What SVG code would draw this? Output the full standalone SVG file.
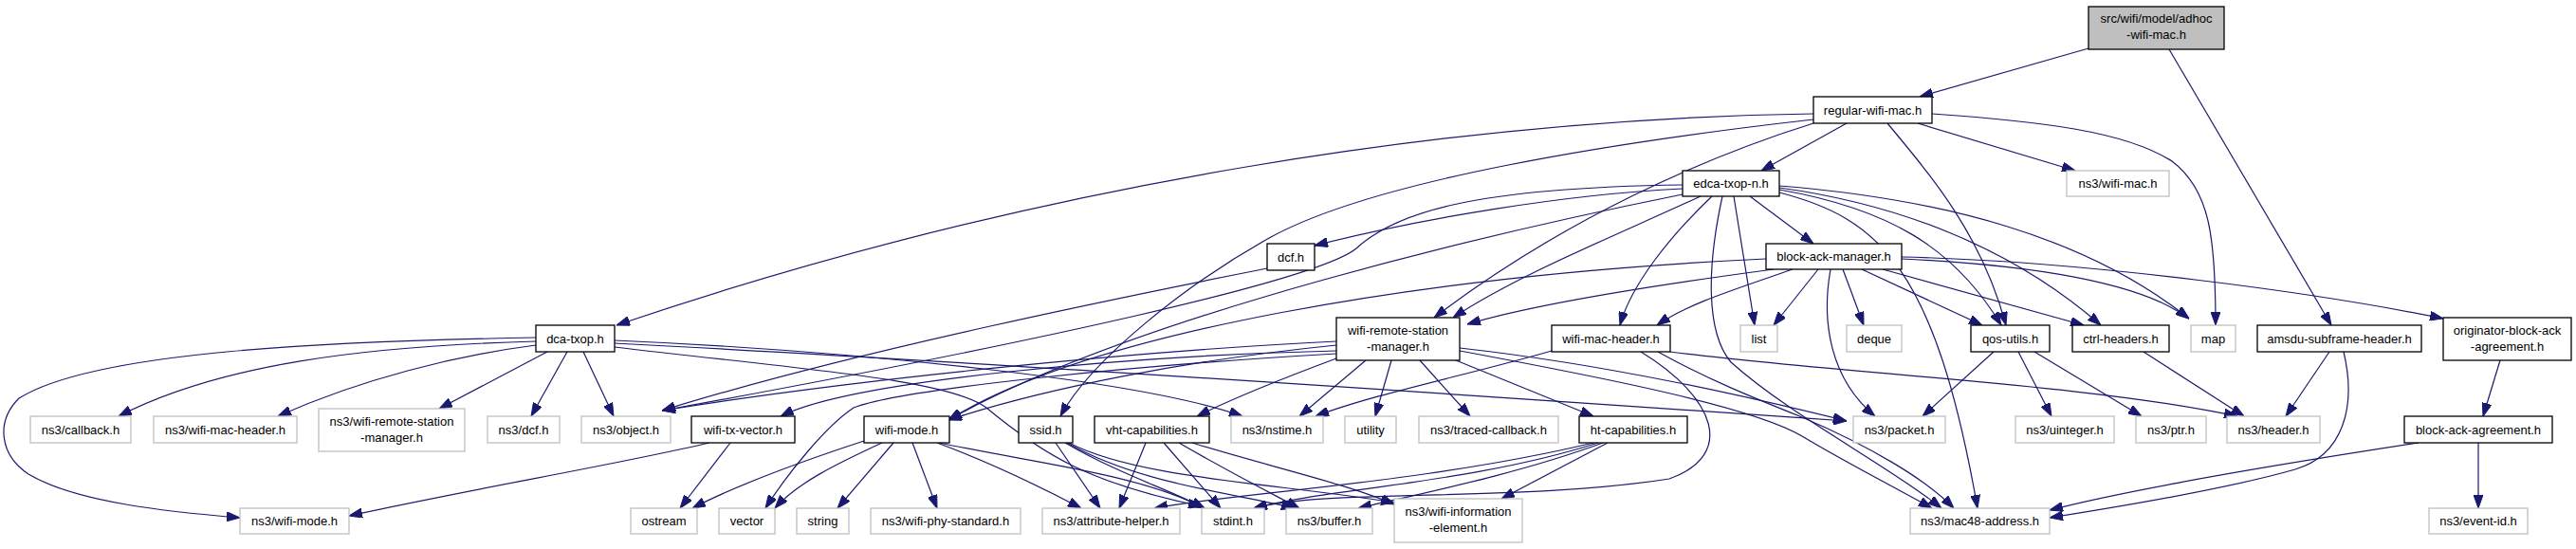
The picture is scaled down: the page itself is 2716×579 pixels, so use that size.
<svg xmlns="http://www.w3.org/2000/svg" width="2716" height="579" viewBox="0 0 2716 579">
<style>
.nd rect{fill:#fff;stroke:#000;stroke-width:1.3}
.ext rect{fill:#fff;stroke:#bfbfbf;stroke-width:1.3}
.root rect{fill:#bfbfbf;stroke:#000;stroke-width:1.3}
text{font-family:"Liberation Sans",Arial,sans-serif;font-size:13px;text-anchor:middle;fill:#000}
#edges path{fill:none;stroke:#191970;stroke-width:1.2;marker-end:url(#a)}
</style>
<defs>
<marker id="a" viewBox="0 0 14 10" refX="14" refY="5" markerWidth="14" markerHeight="10" markerUnits="userSpaceOnUse" orient="auto">
<path d="M0,0 L14,5 L0,10 z" fill="#191970" stroke="#191970"/>
</marker>
</defs>
<rect width="2716" height="579" fill="#fff"/>
<g id="edges">
<path d="M2202,51 L2024,102"/>
<path d="M2287,52 L2458,343"/>
<path d="M2022,130 L2188,180"/>
<path d="M1947,130 L1857,180"/>
<path d="M2037,120 C2150,128 2240,138 2290,170 C2330,200 2336,250 2336,343"/>
<path d="M1990,130 C2040,190 2090,250 2115,343"/>
<path d="M1912,120 C1550,125 1100,190 650,343"/>
<path d="M1912,126 C1700,150 1450,190 1340,250 C1250,300 1150,380 1118,439"/>
<path d="M1912,130 C1800,165 1650,230 1512,335"/>
<path d="M1845,207 L1912,257"/>
<path d="M1774,199 C1650,205 1500,230 1386,259"/>
<path d="M1774,195 C1550,198 1470,225 1430,262 C1390,295 1100,360 698,433"/>
<path d="M1774,205 C1600,240 1200,330 1000,443"/>
<path d="M1793,207 C1700,250 1600,290 1532,335"/>
<path d="M1805,207 C1760,250 1720,300 1708,343"/>
<path d="M1816,207 C1800,280 1798,350 1825,382 C1890,440 1990,490 2047,536"/>
<path d="M1828,207 L1850,343"/>
<path d="M1876,203 C1980,230 2040,280 2085,536"/>
<path d="M1876,200 C1990,220 2060,260 2110,343"/>
<path d="M1876,198 C2000,215 2120,260 2215,343"/>
<path d="M1876,196 C2050,210 2200,250 2308,336"/>
<path d="M1870,284 C1750,300 1620,320 1547,342"/>
<path d="M1862,273 C1500,290 1150,350 1000,443"/>
<path d="M1890,284 C1830,305 1780,320 1747,343"/>
<path d="M1917,284 L1870,343"/>
<path d="M1930,284 C1920,340 1930,400 1977,439"/>
<path d="M1943,284 L1965,343"/>
<path d="M1963,284 L2090,343"/>
<path d="M1985,284 L2197,343"/>
<path d="M2005,273 C2150,280 2260,300 2308,336"/>
<path d="M2005,271 C2200,275 2450,310 2576,336"/>
<path d="M1440,380 L1370,439"/>
<path d="M1467,380 L1450,439"/>
<path d="M1497,380 L1550,439"/>
<path d="M1535,380 L1680,439"/>
<path d="M1539,367 C1700,385 1850,420 1947,444"/>
<path d="M1539,370 C1700,400 1850,430 1900,460 C1950,490 2000,515 2037,536"/>
<path d="M1409,360 C1200,370 900,400 698,433"/>
<path d="M1409,364 C1250,380 1100,410 1000,443"/>
<path d="M1409,370 C1200,375 900,400 823,439"/>
<path d="M1409,373 C1200,385 950,410 900,430 C870,450 830,500 807,536"/>
<path d="M1409,378 C1350,400 1300,420 1262,439"/>
<path d="M1636,370 C1550,395 1450,415 1387,439"/>
<path d="M1761,371 C1950,395 2200,405 2359,439"/>
<path d="M1748,371 C1800,400 1850,420 1900,440 C1970,470 2030,505 2060,536"/>
<path d="M1730,371 C1810,420 1830,480 1760,505 C1600,530 1400,515 1322,536"/>
<path d="M565,360 C380,365 230,385 125,439"/>
<path d="M565,364 C480,375 380,400 293,439"/>
<path d="M577,371 L463,431"/>
<path d="M598,371 L560,439"/>
<path d="M615,371 L647,439"/>
<path d="M565,356 C350,360 100,370 20,420 C-5,445 0,480 30,500 C80,530 180,540 253,546"/>
<path d="M648,359 C900,370 1200,400 1310,439"/>
<path d="M648,362 C1000,380 1600,420 1947,444"/>
<path d="M648,366 C850,390 1000,400 1040,430 C1100,480 1150,510 1267,534"/>
<path d="M1336,283 C1200,310 900,370 698,433"/>
<path d="M748,467 C650,490 500,515 368,544"/>
<path d="M770,467 L717,536"/>
<path d="M911,465 C850,485 780,510 730,536"/>
<path d="M930,467 C880,490 840,510 817,536"/>
<path d="M942,467 L883,536"/>
<path d="M962,467 L988,536"/>
<path d="M988,467 C1050,490 1100,515 1140,536"/>
<path d="M990,467 C1100,490 1200,500 1270,536"/>
<path d="M1113,467 L1160,536"/>
<path d="M1123,467 C1180,500 1230,515 1270,536"/>
<path d="M1125,467 C1200,510 1300,520 1365,536"/>
<path d="M1127,467 C1200,505 1350,510 1470,530"/>
<path d="M1208,467 L1180,536"/>
<path d="M1227,467 L1287,536"/>
<path d="M1243,467 C1300,500 1340,520 1370,536"/>
<path d="M1257,467 C1330,490 1420,510 1470,532"/>
<path d="M1680,467 C1500,510 1300,520 1217,536"/>
<path d="M1685,467 C1550,510 1400,515 1322,536"/>
<path d="M1690,467 C1600,500 1500,520 1432,536"/>
<path d="M1695,467 L1583,526"/>
<path d="M2102,371 L2027,439"/>
<path d="M2128,371 L2163,439"/>
<path d="M2145,371 L2258,439"/>
<path d="M2260,371 L2366,439"/>
<path d="M2456,371 L2410,439"/>
<path d="M2471,371 C2485,430 2470,480 2420,495 C2350,515 2250,532 2161,546"/>
<path d="M2550,467 C2400,490 2250,515 2161,538"/>
<path d="M2613,467 L2613,536"/>
<path d="M2636,380 L2618,439"/>
</g>
<g id="n_root" class="root"><rect x="2202" y="7" width="143" height="45"/><text x="2273.5" y="24">src/wifi/model/adhoc</text><text x="2273.5" y="41">-wifi-mac.h</text></g>
<g id="n_regular" class="nd"><rect x="1912" y="102" width="125" height="28"/><text x="1974.5" y="120.5">regular-wifi-mac.h</text></g>
<g id="n_wifimac" class="ext"><rect x="2179" y="180" width="108" height="27"/><text x="2233" y="198">ns3/wifi-mac.h</text></g>
<g id="n_edca" class="nd"><rect x="1774" y="180" width="102" height="27"/><text x="1825" y="198">edca-txop-n.h</text></g>
<g id="n_dcf" class="nd"><rect x="1336" y="257" width="50" height="28"/><text x="1361" y="275.5">dcf.h</text></g>
<g id="n_bam" class="nd"><rect x="1862" y="257" width="143" height="27"/><text x="1933.5" y="275">block-ack-manager.h</text></g>
<g id="n_dcatxop" class="nd"><rect x="565" y="343" width="83" height="28"/><text x="606.5" y="361.5">dca-txop.h</text></g>
<g id="n_wrsm" class="nd"><rect x="1409" y="335" width="130" height="45"/><text x="1474" y="353">wifi-remote-station</text><text x="1474" y="370">-manager.h</text></g>
<g id="n_wmh" class="nd"><rect x="1636" y="343" width="125" height="28"/><text x="1698.5" y="361.5">wifi-mac-header.h</text></g>
<g id="n_list" class="ext"><rect x="1835" y="343" width="39" height="28"/><text x="1854.5" y="361.5">list</text></g>
<g id="n_deque" class="ext"><rect x="1947" y="343" width="58" height="28"/><text x="1976" y="361.5">deque</text></g>
<g id="n_qos" class="nd"><rect x="2078" y="343" width="83" height="28"/><text x="2119.5" y="361.5">qos-utils.h</text></g>
<g id="n_ctrl" class="nd"><rect x="2185" y="343" width="102" height="28"/><text x="2236" y="361.5">ctrl-headers.h</text></g>
<g id="n_map" class="ext"><rect x="2310" y="343" width="47" height="28"/><text x="2333.5" y="361.5">map</text></g>
<g id="n_amsdu" class="nd"><rect x="2380" y="343" width="173" height="28"/><text x="2466.5" y="361.5">amsdu-subframe-header.h</text></g>
<g id="n_orig" class="nd"><rect x="2576" y="335" width="135" height="45"/><text x="2643.5" y="353">originator-block-ack</text><text x="2643.5" y="370">-agreement.h</text></g>
<g id="n_callback" class="ext"><rect x="32" y="439" width="106" height="28"/><text x="85" y="457.5">ns3/callback.h</text></g>
<g id="n_nwmh" class="ext"><rect x="162" y="439" width="151" height="28"/><text x="237.5" y="457.5">ns3/wifi-mac-header.h</text></g>
<g id="n_nwrsm" class="ext"><rect x="336" y="431" width="154" height="45"/><text x="413" y="449">ns3/wifi-remote-station</text><text x="413" y="466">-manager.h</text></g>
<g id="n_ndcf" class="ext"><rect x="514" y="439" width="76" height="28"/><text x="552" y="457.5">ns3/dcf.h</text></g>
<g id="n_object" class="ext"><rect x="613" y="439" width="94" height="28"/><text x="660" y="457.5">ns3/object.h</text></g>
<g id="n_txv" class="nd"><rect x="729" y="439" width="109" height="28"/><text x="783.5" y="457.5">wifi-tx-vector.h</text></g>
<g id="n_wmode" class="nd"><rect x="911" y="439" width="90" height="28"/><text x="956" y="457.5">wifi-mode.h</text></g>
<g id="n_ssid" class="nd"><rect x="1074" y="439" width="57" height="28"/><text x="1102.5" y="457.5">ssid.h</text></g>
<g id="n_vht" class="nd"><rect x="1154" y="439" width="121" height="28"/><text x="1214.5" y="457.5">vht-capabilities.h</text></g>
<g id="n_nstime" class="ext"><rect x="1298" y="439" width="97" height="28"/><text x="1346.5" y="457.5">ns3/nstime.h</text></g>
<g id="n_utility" class="ext"><rect x="1418" y="439" width="54" height="28"/><text x="1445" y="457.5">utility</text></g>
<g id="n_traced" class="ext"><rect x="1496" y="439" width="147" height="28"/><text x="1569.5" y="457.5">ns3/traced-callback.h</text></g>
<g id="n_ht" class="nd"><rect x="1665" y="439" width="114" height="28"/><text x="1722" y="457.5">ht-capabilities.h</text></g>
<g id="n_packet" class="ext"><rect x="1954" y="439" width="97" height="28"/><text x="2002.5" y="457.5">ns3/packet.h</text></g>
<g id="n_uint" class="ext"><rect x="2125" y="439" width="104" height="28"/><text x="2177" y="457.5">ns3/uinteger.h</text></g>
<g id="n_ptr" class="ext"><rect x="2252" y="439" width="74" height="28"/><text x="2289" y="457.5">ns3/ptr.h</text></g>
<g id="n_header" class="ext"><rect x="2348" y="439" width="98" height="28"/><text x="2397" y="457.5">ns3/header.h</text></g>
<g id="n_baa" class="nd"><rect x="2535" y="439" width="156" height="28"/><text x="2613" y="457.5">block-ack-agreement.h</text></g>
<g id="n_nwmode" class="ext"><rect x="253" y="536" width="115" height="27"/><text x="310.5" y="554">ns3/wifi-mode.h</text></g>
<g id="n_ostream" class="ext"><rect x="665" y="536" width="70" height="27"/><text x="700" y="554">ostream</text></g>
<g id="n_vector" class="ext"><rect x="758" y="536" width="59" height="27"/><text x="787.5" y="554">vector</text></g>
<g id="n_string" class="ext"><rect x="840" y="536" width="55" height="27"/><text x="867.5" y="554">string</text></g>
<g id="n_phy" class="ext"><rect x="918" y="536" width="158" height="27"/><text x="997" y="554">ns3/wifi-phy-standard.h</text></g>
<g id="n_attr" class="ext"><rect x="1099" y="536" width="145" height="27"/><text x="1171.5" y="554">ns3/attribute-helper.h</text></g>
<g id="n_stdint" class="ext"><rect x="1267" y="536" width="66" height="27"/><text x="1300" y="554">stdint.h</text></g>
<g id="n_buffer" class="ext"><rect x="1356" y="536" width="91" height="27"/><text x="1401.5" y="554">ns3/buffer.h</text></g>
<g id="n_wie" class="ext"><rect x="1470" y="526" width="135" height="46"/><text x="1537.5" y="544">ns3/wifi-information</text><text x="1537.5" y="561">-element.h</text></g>
<g id="n_mac48" class="ext"><rect x="2014" y="536" width="147" height="27"/><text x="2087.5" y="554">ns3/mac48-address.h</text></g>
<g id="n_event" class="ext"><rect x="2561" y="536" width="104" height="27"/><text x="2613" y="554">ns3/event-id.h</text></g>
</svg>
